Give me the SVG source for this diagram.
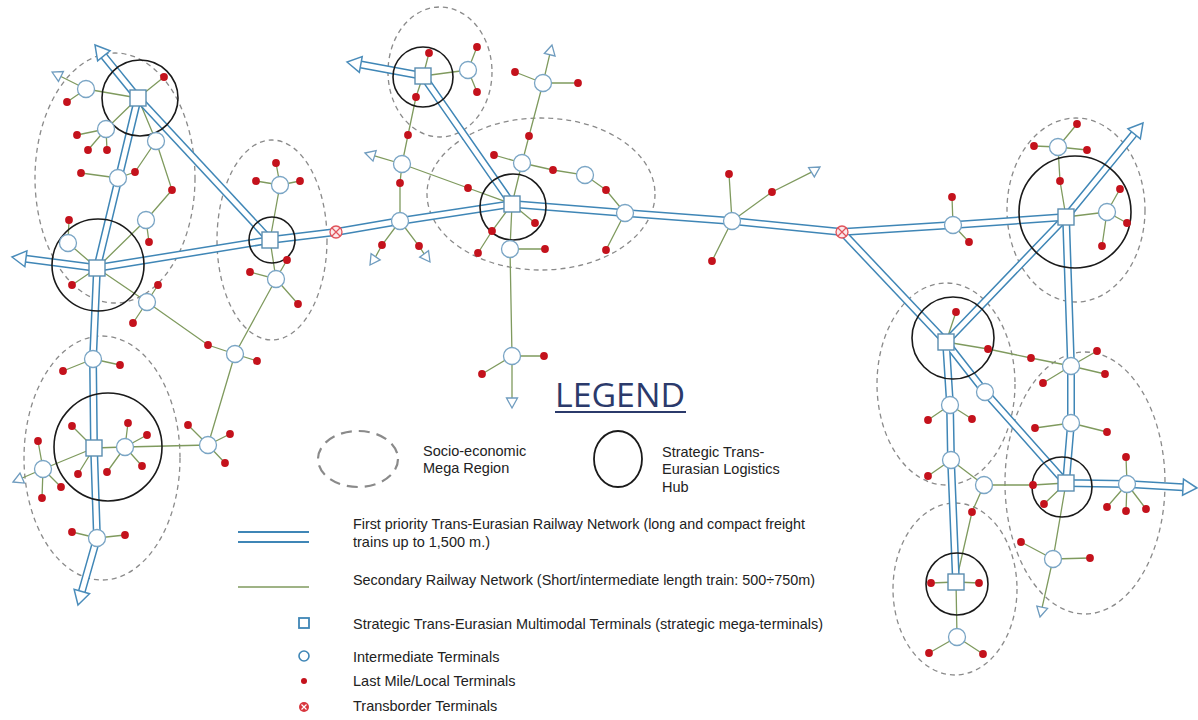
<svg xmlns="http://www.w3.org/2000/svg" xmlns:xlink="http://www.w3.org/1999/xlink" width="1198" height="720" viewBox="0 0 1198 720">
<style>
.reg{fill:none;stroke:#8a8a8a;stroke-width:1.3;stroke-dasharray:5 4}
.hub{fill:none;stroke:#1a1a1a;stroke-width:1.6}
.sec{fill:none;stroke:#7f9a5e;stroke-width:1.3}
.pb{fill:none;stroke:#3f86b6;stroke-width:8;stroke-linejoin:round}
.pw{fill:none;stroke:#fff;stroke-width:5;stroke-linejoin:round}
.ah{fill:#fff;stroke:#4a8cba;stroke-width:1.5}
.sa{fill:#fff;stroke:#6f9cbf;stroke-width:1.3}
.it circle{fill:#fff;stroke:#7aa5c5;stroke-width:1.3;r:8.5px}
.sq{fill:#fff;stroke:#5b8db0;stroke-width:1.4}
.r{fill:#c4121c}
.r circle{r:3.9px}
.tb{fill:#fbe9ea;stroke:#e0525a;stroke-width:1.3}
.tbx{stroke:#e0525a;stroke-width:1.2}
.t{font-family:"Liberation Sans",Arial,sans-serif;font-size:14.5px;fill:#222}
</style>
<defs>
<path id="bigA" d="M0,0 L-14,-8 L-14,8 Z"/>
<path id="smA" d="M0,0 L-10,-5.5 L-10,5.5 Z"/>
<rect id="sqr" x="-8" y="-8" width="16" height="16"/>
</defs>
<rect width="1198" height="720" fill="#fff"/>

<g id="regions">
<ellipse class="reg" cx="115" cy="178" rx="80" ry="125"/>
<ellipse class="reg" cx="272" cy="240" rx="55" ry="100"/>
<ellipse class="reg" cx="102" cy="458" rx="78" ry="122"/>
<ellipse class="reg" cx="440" cy="72" rx="52" ry="65"/>
<ellipse class="reg" cx="541" cy="194" rx="114" ry="76"/>
<ellipse class="reg" cx="1076" cy="210" rx="69" ry="92"/>
<ellipse class="reg" cx="946" cy="384" rx="69" ry="101"/>
<ellipse class="reg" cx="1085" cy="483" rx="80" ry="131"/>
<ellipse class="reg" cx="955" cy="589" rx="62" ry="86"/>
</g>

<g id="connectors">
<path class="sec" d="M86,89L138,98M86,89L60.9,76.5M86,89L67,102M138,98L164,77M138,98L106,129M106,129L77,135M106,129L88,150M106,129L107,150M138,98L156,141M156,141L135,172L118,178M118,178L81,173M156,141L172,190L146,220L97,268M146,220L149,242M97,268L68,243L69,220M97,268L72,285M97,268L147,302M147,302L158,285M147,302L133,323M147,302L208,345L235,354L257,361M235,354L276,279M235,354L208,445M270,240L280,185M280,185L276,163M280,185L256,181M280,185L300,181M270,240L276,279M276,279L250,272M276,279L287,260M276,279L298,304M94,448L43,469L22.2,478M43,469L38,441M43,469L61,487M43,469L42,498M94,448L72,426M94,448L78,474M94,448L125,447L208,445M125,447L128,423M125,447L147,435M125,447L142,466M125,447L107,472M208,445L188,425M208,445L230,434M208,445L225,463M93,359L63,371M93,359L120,365M97,538L72,532M97,538L125,535"/>
<path class="sec" d="M423,76L468,70M468,70L477,47M468,70L477,92M423,76L429,53M423,76L416,97L408,135L402,164M402,164L374.6,155.8M402,164L468,188L512,204M402,164L400,183L400,221M400,221L382,245L375.6,256.7M400,221L419,246L424.1,253.9M543,83L549.7,54.7M543,83L515,72M543,83L578,83M543,83L529,136L522,163L512,204M522,163L494,155M522,163L553,170L585,175L606,190L625,213M625,213L606,250M512,204L535,223M512,204L492,231L478,253M512,204L510,249L512,356L512,398M510,249L545,249M512,356L482,374M512,356L544,356M732,221L729,174M732,221L772,192L811.5,172.2M732,221L712,261M953,225L952,197M953,225L969,242"/>
<path class="sec" d="M1066,217L1060,181L1058,147M1058,147L1034,146M1058,147L1077,124M1058,147L1087,150M1066,217L1107,212M1107,212L1120,189M1107,212L1127,223M1107,212L1102,246M946,342L956,312M946,342L988,349L1031,358L1071,366M1071,366L1097,351M1071,366L1105,374M1071,366L1043,383M1071,423L1035,428M1071,423L1107,432M950,405L928,420M950,405L972,419M951,460L928,476M951,460L984,485M984,485L1033,485L1066,483M984,485L972,512L956,582M1066,483L1044,504M1066,483L1053,559L1042.2,607.2M1053,559L1021,542M1053,559L1090,558M1127,484L1107,507M1127,484L1126,511M1127,484L1146,509M1127,484L1126,457M956,582L931,583M956,582L979,583M956,582L957,637M957,637L929,653M957,637L983,654"/>
<g id="secondary-arrows" class="sa">
<use xlink:href="#smA" transform="translate(52,72) rotate(-153.4)"/>
<use xlink:href="#smA" transform="translate(13,482) rotate(156.6)"/>
<use xlink:href="#smA" transform="translate(365,153) rotate(-163.4)"/>
<use xlink:href="#smA" transform="translate(370,265) rotate(124.3)"/>
<use xlink:href="#smA" transform="translate(430,262) rotate(53.8)"/>
<use xlink:href="#smA" transform="translate(552,45) rotate(-76.7)"/>
<use xlink:href="#smA" transform="translate(512,408) rotate(90)"/>
<use xlink:href="#smA" transform="translate(820,167) rotate(-31.5)"/>
<use xlink:href="#smA" transform="translate(1040,617) rotate(102.6)"/>
</g>
<g id="priority-lines">
<path class="pb" d="M103.8,55.9L138,98"/>
<path class="pb" d="M138,98L97,268L93,359L94,448L97,538L81.8,591.5"/>
<path class="pb" d="M138,98L270,240"/>
<path class="pb" d="M25.9,258.8L97,268L270,240L336,232L400,221L512,204"/>
<path class="pb" d="M360.8,64.5L423,76L512,204"/>
<path class="pb" d="M512,204L625,213L732,221L842,232L953,225L1066,217"/>
<path class="pb" d="M1134.1,133.8L1066,217L946,342"/>
<path class="pb" d="M842,232L946,342"/>
<path class="pb" d="M1066,217L1071,366L1071,423L1066,483L1127,484L1183,487.2"/>
<path class="pb" d="M946,342L950,405L951,460L956,582"/>
<path class="pb" d="M946,342L985,392L1066,483"/>
<path class="pw" d="M103.8,55.9L138,98"/>
<path class="pw" d="M138,98L97,268L93,359L94,448L97,538L81.8,591.5"/>
<path class="pw" d="M138,98L270,240"/>
<path class="pw" d="M25.9,258.8L97,268L270,240L336,232L400,221L512,204"/>
<path class="pw" d="M360.8,64.5L423,76L512,204"/>
<path class="pw" d="M512,204L625,213L732,221L842,232L953,225L1066,217"/>
<path class="pw" d="M1134.1,133.8L1066,217L946,342"/>
<path class="pw" d="M842,232L946,342"/>
<path class="pw" d="M1066,217L1071,366L1071,423L1066,483L1127,484L1183,487.2"/>
<path class="pw" d="M946,342L950,405L951,460L956,582"/>
<path class="pw" d="M946,342L985,392L1066,483"/>
</g>
<g id="priority-arrows" class="ah">
<use xlink:href="#bigA" transform="translate(95,45) rotate(-129.1)"/>
<use xlink:href="#bigA" transform="translate(12,257) rotate(-172.6)"/>
<use xlink:href="#bigA" transform="translate(78,605) rotate(105.8)"/>
<use xlink:href="#bigA" transform="translate(347,62) rotate(-169.6)"/>
<use xlink:href="#bigA" transform="translate(1143,123) rotate(-50.7)"/>
<use xlink:href="#bigA" transform="translate(1197,488) rotate(3.3)"/>
</g>
</g>

<g id="hubs" class="hub">
<circle id="hub1" cx="140" cy="98" r="38"/>
<circle id="hub2" cx="98" cy="265" r="46"/>
<circle id="hub3" cx="272" cy="240" r="23"/>
<circle id="hub4" cx="108" cy="447" r="54"/>
<circle id="hub5" cx="423" cy="77" r="30"/>
<circle id="hub6" cx="513" cy="207" r="33"/>
<circle id="hub7" cx="1075" cy="212" r="56"/>
<circle id="hub8" cx="953" cy="338" r="41"/>
<circle id="hub9" cx="1062" cy="487" r="30"/>
<circle id="hub10" cx="957" cy="584" r="31"/>
</g>

<g id="strategic-terminals" class="sq">
<g id="s1"><use xlink:href="#sqr" x="138" y="98"/></g>
<g id="s2"><use xlink:href="#sqr" x="97" y="268"/></g>
<g id="s3"><use xlink:href="#sqr" x="270" y="240"/></g>
<g id="s4"><use xlink:href="#sqr" x="94" y="448"/></g>
<g id="s5"><use xlink:href="#sqr" x="423" y="76"/></g>
<g id="s6"><use xlink:href="#sqr" x="512" y="204"/></g>
<g id="s7"><use xlink:href="#sqr" x="1066" y="217"/></g>
<g id="s8"><use xlink:href="#sqr" x="946" y="342"/></g>
<g id="s9"><use xlink:href="#sqr" x="1066" y="483"/></g>
<g id="s10"><use xlink:href="#sqr" x="956" y="582"/></g>
</g>

<g id="intermediate-terminals" class="it">
<circle id="i1" cx="86" cy="89" r="8.5"/><circle id="i2" cx="106" cy="129" r="8.5"/><circle id="i3" cx="156" cy="141" r="8.5"/><circle id="i4" cx="118" cy="178" r="8.5"/><circle id="i5" cx="146" cy="220" r="8.5"/><circle id="i6" cx="68" cy="243" r="8.5"/><circle id="i7" cx="147" cy="302" r="8.5"/><circle id="i8" cx="235" cy="354" r="8.5"/><circle id="i9" cx="280" cy="185" r="8.5"/><circle id="i10" cx="276" cy="279" r="8.5"/><circle id="i11" cx="93" cy="359" r="8.5"/><circle id="i12" cx="43" cy="469" r="8.5"/><circle id="i13" cx="125" cy="447" r="8.5"/><circle id="i14" cx="208" cy="445" r="8.5"/><circle id="i15" cx="97" cy="538" r="8.5"/>
<circle id="i16" cx="468" cy="70" r="8.5"/><circle id="i17" cx="402" cy="164" r="8.5"/><circle id="i18" cx="400" cy="221" r="8.5"/><circle id="i19" cx="543" cy="83" r="8.5"/><circle id="i20" cx="522" cy="163" r="8.5"/><circle id="i21" cx="585" cy="175" r="8.5"/><circle id="i22" cx="625" cy="213" r="8.5"/><circle id="i23" cx="510" cy="249" r="8.5"/><circle id="i24" cx="512" cy="356" r="8.5"/><circle id="i25" cx="732" cy="221" r="8.5"/><circle id="i26" cx="953" cy="225" r="8.5"/>
<circle id="i27" cx="1058" cy="147" r="8.5"/><circle id="i28" cx="1107" cy="212" r="8.5"/><circle id="i29" cx="1071" cy="366" r="8.5"/><circle id="i30" cx="1071" cy="423" r="8.5"/><circle id="i31" cx="950" cy="405" r="8.5"/><circle id="i32" cx="951" cy="460" r="8.5"/><circle id="i33" cx="985" cy="392" r="8.5"/><circle id="i34" cx="984" cy="485" r="8.5"/><circle id="i35" cx="1127" cy="484" r="8.5"/><circle id="i36" cx="1053" cy="559" r="8.5"/><circle id="i37" cx="957" cy="637" r="8.5"/>
</g>

<g id="local-terminals" class="r">
<circle cx="67" cy="102" r="3.9"/><circle cx="164" cy="77" r="3.9"/><circle cx="77" cy="135" r="3.9"/><circle cx="88" cy="150" r="3.9"/><circle cx="107" cy="150" r="3.9"/><circle cx="135" cy="172" r="3.9"/><circle cx="81" cy="173" r="3.9"/><circle cx="172" cy="190" r="3.9"/><circle cx="149" cy="242" r="3.9"/><circle cx="69" cy="220" r="3.9"/><circle cx="72" cy="285" r="3.9"/><circle cx="158" cy="285" r="3.9"/><circle cx="133" cy="323" r="3.9"/><circle cx="208" cy="345" r="3.9"/><circle cx="257" cy="361" r="3.9"/><circle cx="276" cy="163" r="3.9"/><circle cx="256" cy="181" r="3.9"/><circle cx="300" cy="181" r="3.9"/><circle cx="250" cy="272" r="3.9"/><circle cx="287" cy="260" r="3.9"/><circle cx="298" cy="304" r="3.9"/><circle cx="38" cy="441" r="3.9"/><circle cx="61" cy="487" r="3.9"/><circle cx="42" cy="498" r="3.9"/><circle cx="72" cy="426" r="3.9"/><circle cx="78" cy="474" r="3.9"/><circle cx="128" cy="423" r="3.9"/><circle cx="147" cy="435" r="3.9"/><circle cx="142" cy="466" r="3.9"/><circle cx="107" cy="472" r="3.9"/><circle cx="188" cy="425" r="3.9"/><circle cx="230" cy="434" r="3.9"/><circle cx="225" cy="463" r="3.9"/><circle cx="63" cy="371" r="3.9"/><circle cx="120" cy="365" r="3.9"/><circle cx="72" cy="532" r="3.9"/><circle cx="125" cy="535" r="3.9"/>
<circle cx="477" cy="47" r="3.9"/><circle cx="477" cy="92" r="3.9"/><circle cx="429" cy="53" r="3.9"/><circle cx="416" cy="97" r="3.9"/><circle cx="408" cy="135" r="3.9"/><circle cx="468" cy="188" r="3.9"/><circle cx="400" cy="183" r="3.9"/><circle cx="382" cy="245" r="3.9"/><circle cx="419" cy="246" r="3.9"/><circle cx="515" cy="72" r="3.9"/><circle cx="578" cy="83" r="3.9"/><circle cx="529" cy="136" r="3.9"/><circle cx="494" cy="155" r="3.9"/><circle cx="553" cy="170" r="3.9"/><circle cx="606" cy="190" r="3.9"/><circle cx="606" cy="250" r="3.9"/><circle cx="535" cy="223" r="3.9"/><circle cx="492" cy="231" r="3.9"/><circle cx="478" cy="253" r="3.9"/><circle cx="545" cy="249" r="3.9"/><circle cx="482" cy="374" r="3.9"/><circle cx="544" cy="356" r="3.9"/><circle cx="729" cy="174" r="3.9"/><circle cx="772" cy="192" r="3.9"/><circle cx="712" cy="261" r="3.9"/><circle cx="952" cy="197" r="3.9"/><circle cx="969" cy="242" r="3.9"/>
<circle cx="1060" cy="181" r="3.9"/><circle cx="1034" cy="146" r="3.9"/><circle cx="1077" cy="124" r="3.9"/><circle cx="1087" cy="150" r="3.9"/><circle cx="1120" cy="189" r="3.9"/><circle cx="1127" cy="223" r="3.9"/><circle cx="1102" cy="246" r="3.9"/><circle cx="956" cy="312" r="3.9"/><circle cx="988" cy="349" r="3.9"/><circle cx="1031" cy="358" r="3.9"/><circle cx="1097" cy="351" r="3.9"/><circle cx="1105" cy="374" r="3.9"/><circle cx="1043" cy="383" r="3.9"/><circle cx="1035" cy="428" r="3.9"/><circle cx="1107" cy="432" r="3.9"/><circle cx="928" cy="420" r="3.9"/><circle cx="972" cy="419" r="3.9"/><circle cx="928" cy="476" r="3.9"/><circle cx="1033" cy="485" r="3.9"/><circle cx="972" cy="512" r="3.9"/><circle cx="1044" cy="504" r="3.9"/><circle cx="1021" cy="542" r="3.9"/><circle cx="1090" cy="558" r="3.9"/><circle cx="1107" cy="507" r="3.9"/><circle cx="1126" cy="511" r="3.9"/><circle cx="1146" cy="509" r="3.9"/><circle cx="1126" cy="457" r="3.9"/><circle cx="931" cy="583" r="3.9"/><circle cx="979" cy="583" r="3.9"/><circle cx="929" cy="653" r="3.9"/><circle cx="983" cy="654" r="3.9"/>
</g>

<g id="transborder-1" transform="translate(336,232)"><circle class="tb" r="6"/><path class="tbx" d="M-4,-4L4,4M-4,4L4,-4"/></g>
<g id="transborder-2" transform="translate(842,232)"><circle class="tb" r="6"/><path class="tbx" d="M-4,-4L4,4M-4,4L4,-4"/></g>

<g id="legend">
<text x="555" y="407" font-family="'Open Sans','Noto Sans',sans-serif" font-size="32" fill="#2b3a6b" textLength="130" lengthAdjust="spacingAndGlyphs">LEGEND</text>
<line x1="555" y1="412" x2="686" y2="412" stroke="#2b3a6b" stroke-width="1.8"/>
<ellipse cx="358" cy="459" rx="40" ry="28" fill="none" stroke="#8a8a8a" stroke-width="2.2" stroke-dasharray="11 7"/>
<text class="t" x="423" y="456">Socio-economic</text>
<text class="t" x="423" y="473">Mega Region</text>
<ellipse cx="618" cy="459" rx="24" ry="28" fill="none" stroke="#1a1a1a" stroke-width="1.8"/>
<text class="t" x="662" y="457">Strategic Trans-</text>
<text class="t" x="662" y="474">Eurasian Logistics</text>
<text class="t" x="662" y="492">Hub</text>
<line x1="238" y1="532" x2="309" y2="532" stroke="#3f86b6" stroke-width="1.8"/>
<line x1="238" y1="542" x2="309" y2="542" stroke="#3f86b6" stroke-width="1.8"/>
<text class="t" x="353" y="529" textLength="452" lengthAdjust="spacingAndGlyphs">First priority Trans-Eurasian Railway Network (long and compact freight</text>
<text class="t" x="353" y="547">trains up to 1,500 m.)</text>
<line x1="238" y1="587" x2="309" y2="587" stroke="#7f9a5e" stroke-width="1.6"/>
<text class="t" x="353" y="585" textLength="462" lengthAdjust="spacingAndGlyphs">Secondary Railway Network (Short/intermediate length train: 500÷750m)</text>
<rect x="299" y="618" width="10" height="10" fill="#fff" stroke="#3f86b6" stroke-width="1.8"/>
<text class="t" x="353" y="629" textLength="470" lengthAdjust="spacingAndGlyphs">Strategic Trans-Eurasian Multimodal Terminals (strategic mega-terminals)</text>
<circle cx="304" cy="656" r="5" fill="#fff" stroke="#3f86b6" stroke-width="1.6"/>
<text class="t" x="353" y="662">Intermediate Terminals</text>
<circle cx="304" cy="681" r="3" fill="#c4121c"/>
<text class="t" x="353" y="686">Last Mile/Local Terminals</text>
<circle cx="304" cy="707" r="5" fill="#d8363e"/>
<path d="M301.5,704.5L306.5,709.5M301.5,709.5L306.5,704.5" stroke="#fff" stroke-width="1.2"/>
<text class="t" x="353" y="711">Transborder Terminals</text>
</g>
</svg>
